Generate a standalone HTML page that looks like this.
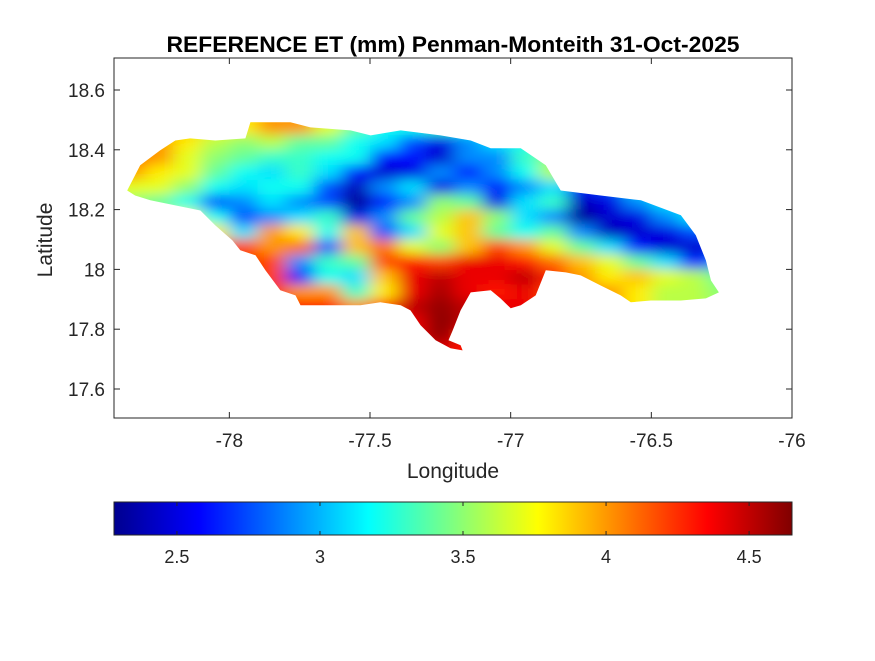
<!DOCTYPE html>
<html><head><meta charset="utf-8"><style>
body{margin:0;background:#fff}
svg text{font-family:"Liberation Sans",Arial,sans-serif;fill:#262626}
</style></head><body>
<svg id="chart" width="875" height="656" viewBox="0 0 875 656" xmlns="http://www.w3.org/2000/svg">
<defs>
<filter id="blur" filterUnits="userSpaceOnUse" x="60" y="80" width="740" height="320"><feGaussianBlur stdDeviation="9 6" edgeMode="duplicate"/></filter>
<clipPath id="island"><path id="islandPath" d=""/></clipPath>
<linearGradient id="jet" x1="0" x2="1" y1="0" y2="0"></linearGradient>
</defs>
<rect width="875" height="656" fill="#fff"/>
<g id="mapCells" clip-path="url(#island)"><g id="cellsInner" filter="url(#blur)"></g></g>
<rect x="114" y="58" width="678" height="360" fill="none" stroke="#262626" stroke-width="1"/>
<g id="axes"></g>
<text x="453" y="52" text-anchor="middle" font-size="22" font-weight="bold" textLength="573" lengthAdjust="spacingAndGlyphs" style="fill:#000">REFERENCE ET (mm) Penman-Monteith 31-Oct-2025</text>
<text x="453" y="478" text-anchor="middle" font-size="21">Longitude</text>
<text transform="translate(52,240) rotate(-90)" text-anchor="middle" font-size="21">Latitude</text>
<rect x="114" y="502" width="678" height="33" fill="url(#jet)" stroke="#262626" stroke-width="1"/>
<g id="cbticks"></g>
</svg>
<script>
const lonTicks=[-78,-77.5,-77,-76.5,-76];
const latTicks=[18.6,18.4,18.2,18,17.8,17.6];
const cbTicks=[2.5,3,3.5,4,4.5];
const gridLon=[-78.35,-78.25,-78.15,-78.05,-77.95,-77.85,-77.75,-77.65,-77.55,-77.45,-77.35,-77.25,-77.15,-77.05,-76.95,-76.85,-76.75,-76.65,-76.55,-76.45,-76.35,-76.25];
const gridLat=[18.475,18.425,18.375,18.325,18.275,18.225,18.175,18.125,18.075,18.025,17.975,17.925,17.875,17.825,17.775,17.725];
const etRows=[
[3.9,3.9,3.9,3.8,3.8,4.0,4.0,3.7,3.4,3.2,3.2,3.3,3.2,3.1,3.1,3.2,3.2,3.2,3.2,3.2,3.2,3.2],
[4.0,4.0,3.8,3.6,3.5,3.6,3.4,3.4,3.2,3.1,2.75,2.5,2.9,3.1,3.2,3.3,3.3,3.3,3.3,3.3,3.3,3.3],
[4.1,4.0,3.7,3.5,3.4,3.3,3.3,3.2,3.2,2.6,2.6,2.45,2.9,2.9,3.3,3.5,3.4,3.4,3.4,3.4,3.4,3.4],
[4.0,3.8,3.7,3.4,3.2,3.1,3.3,3.1,2.6,2.45,2.5,2.9,2.6,2.9,3.2,3.6,3.4,3.4,3.4,3.4,3.4,3.4],
[3.7,3.7,3.5,3.2,3.1,3.2,3.2,2.75,2.4,2.9,3.1,2.5,2.9,2.6,2.9,3.1,2.6,2.75,3.1,3.2,3.2,3.2],
[3.5,3.4,3.2,2.75,2.9,3.1,2.9,2.75,2.3,2.6,2.9,3.5,3.4,2.5,3.1,3.3,2.4,2.5,2.9,3.1,3.1,3.1],
[3.6,3.6,3.7,3.2,2.75,2.9,3.1,3.3,2.5,2.9,3.4,3.6,3.9,3.5,3.1,2.9,2.3,2.45,2.5,2.9,3.1,3.1],
[3.8,3.8,3.8,3.8,3.1,4.0,3.8,3.2,3.9,2.75,3.1,3.7,3.9,3.4,3.2,3.4,2.9,2.4,2.45,2.5,2.75,2.75],
[4.2,4.2,4.2,4.2,4.2,4.0,4.1,2.75,3.9,4.1,3.7,3.5,3.9,4.2,4.0,3.7,3.4,3.1,2.6,2.45,2.45,2.5],
[4.2,4.2,4.2,4.2,4.2,4.2,2.9,3.3,3.4,4.2,4.3,4.2,4.4,4.4,4.3,4.1,3.9,3.7,3.4,3.1,2.6,2.9],
[4.2,4.2,4.2,4.2,4.2,4.2,2.6,3.2,3.1,3.9,4.4,4.5,4.4,4.4,4.5,4.3,4.0,3.8,3.9,3.7,3.6,3.4],
[4.3,4.3,4.3,4.3,4.3,4.3,4.0,4.0,3.3,3.8,4.4,4.55,4.4,4.3,4.4,4.2,4.0,4.0,3.8,3.6,3.6,3.5],
[4.3,4.3,4.3,4.3,4.3,4.3,4.3,4.3,4.0,4.2,4.5,4.6,4.5,4.4,4.4,4.2,4.0,4.0,3.8,3.6,3.6,3.5],
[4.3,4.3,4.3,4.3,4.3,4.3,4.3,4.3,4.2,4.3,4.4,4.62,4.5,4.4,4.4,4.2,4.0,4.0,3.8,3.6,3.6,3.5],
[4.3,4.3,4.3,4.3,4.3,4.3,4.3,4.3,4.3,4.3,4.4,4.6,4.3,4.3,4.3,4.2,4.0,4.0,3.8,3.6,3.6,3.5],
[4.3,4.3,4.3,4.3,4.3,4.3,4.3,4.3,4.3,4.3,4.3,4.4,4.3,4.3,4.3,4.2,4.0,4.0,3.8,3.6,3.6,3.5]];
const outlineLon=[-78.363,-78.317,-78.246,-78.192,-78.139,-78.050,-77.943,-77.925,-77.783,-77.712,-77.569,-77.498,-77.391,-77.249,-77.142,-77.071,-76.964,-76.875,-76.822,-76.680,-76.537,-76.395,-76.342,-76.306,-76.288,-76.260,-76.306,-76.395,-76.502,-76.573,-76.609,-76.680,-76.751,-76.804,-76.875,-76.911,-76.964,-77.0,-77.036,-77.071,-77.142,-77.178,-77.206,-77.221,-77.178,-77.171,-77.214,-77.267,-77.320,-77.356,-77.391,-77.463,-77.534,-77.747,-77.765,-77.819,-77.872,-77.907,-77.961,-77.989,-78.050,-78.103,-78.192,-78.281,-78.335];
const outlineLat=[18.264,18.348,18.398,18.431,18.438,18.431,18.438,18.492,18.492,18.475,18.465,18.448,18.465,18.448,18.431,18.405,18.405,18.348,18.264,18.247,18.231,18.181,18.114,18.030,17.963,17.923,17.903,17.896,17.896,17.890,17.913,17.946,17.980,17.990,17.997,17.913,17.880,17.870,17.903,17.930,17.923,17.863,17.796,17.763,17.746,17.729,17.736,17.763,17.813,17.863,17.880,17.890,17.880,17.880,17.913,17.930,17.997,18.047,18.064,18.097,18.147,18.197,18.214,18.231,18.247];
const lonMin=-78.41,lonMax=-76,latMin=17.503,latMax=18.707,vMin=2.28,vMax=4.65;
const X=lon=>114+(lon-lonMin)/(lonMax-lonMin)*678;
const Y=lat=>58+(latMax-lat)/(latMax-latMin)*360;
const CX=v=>114+(v-vMin)/(vMax-vMin)*678;
const NS='http://www.w3.org/2000/svg';
function jet(v){let t=(v-vMin)/(vMax-vMin);t=Math.max(0,Math.min(1,t));
const st=[[0,0,0,143],[0.125,0,0,255],[0.375,0,255,255],[0.625,255,255,0],[0.875,255,0,0],[1,128,0,0]];
for(let i=1;i<st.length;i++){if(t<=st[i][0]){const a=st[i-1],b=st[i],f=(t-a[0])/(b[0]-a[0]);
return `rgb(${Math.round(a[1]+f*(b[1]-a[1]))},${Math.round(a[2]+f*(b[2]-a[2]))},${Math.round(a[3]+f*(b[3]-a[3]))})`;}}return 'rgb(128,0,0)';}
function mk(tag,attrs,parent){const e=document.createElementNS(NS,tag);for(const k in attrs)e.setAttribute(k,attrs[k]);parent.appendChild(e);return e;}
let d='';for(let i=0;i<outlineLon.length;i++)d+=(i?'L':'M')+X(outlineLon[i]).toFixed(1)+','+Y(outlineLat[i]).toFixed(1);
document.getElementById('islandPath').setAttribute('d',d+'Z');
const inner=document.getElementById('cellsInner');
const dLon=gridLon[1]-gridLon[0],dLat=gridLat[0]-gridLat[1];
etRows.forEach((row,r)=>row.forEach((v,c)=>{
 const x0=X(gridLon[c]-dLon/2),x1=X(gridLon[c]+dLon/2),y0=Y(gridLat[r]+dLat/2),y1=Y(gridLat[r]-dLat/2);
 const ext=(c==0?-40:0),extR=(c==row.length-1?40:0),extT=(r==0?-40:0),extB=(r==etRows.length-1?40:0);
 const el=mk('rect',{x:x0+ext,y:y0+extT,width:x1-x0-ext+extR+0.5,height:y1-y0-extT+extB+0.5,fill:jet(v)},inner);
 
 
}));
const ax=document.getElementById('axes');
lonTicks.forEach(t=>{const x=X(t);
 mk('line',{x1:x,x2:x,y1:418,y2:412,stroke:'#262626'},ax);mk('line',{x1:x,x2:x,y1:58,y2:64,stroke:'#262626'},ax);
 const tx=mk('text',{x:x,y:447,'text-anchor':'middle','font-size':19},ax);tx.textContent=t;
 
 });
latTicks.forEach(t=>{const y=Y(t);
 mk('line',{x1:114,x2:120,y1:y,y2:y,stroke:'#262626'},ax);mk('line',{x1:792,x2:786,y1:y,y2:y,stroke:'#262626'},ax);
 const tx=mk('text',{x:105,y:y+7,'text-anchor':'end','font-size':19},ax);tx.textContent=t;
 
 });
const g=document.getElementById('jet');
for(let i=0;i<=40;i++){const v=vMin+(vMax-vMin)*i/40;mk('stop',{offset:(i/40),'stop-color':jet(v)},g);}
const cb=document.getElementById('cbticks');
cbTicks.forEach(t=>{const x=CX(t);
 mk('line',{x1:x,x2:x,y1:535,y2:531,stroke:'#262626'},cb);mk('line',{x1:x,x2:x,y1:502,y2:506,stroke:'#262626'},cb);
 const tx=mk('text',{x:x,y:563,'text-anchor':'middle','font-size':18},cb);tx.textContent=t;
 
 });
</script>
</body></html>
